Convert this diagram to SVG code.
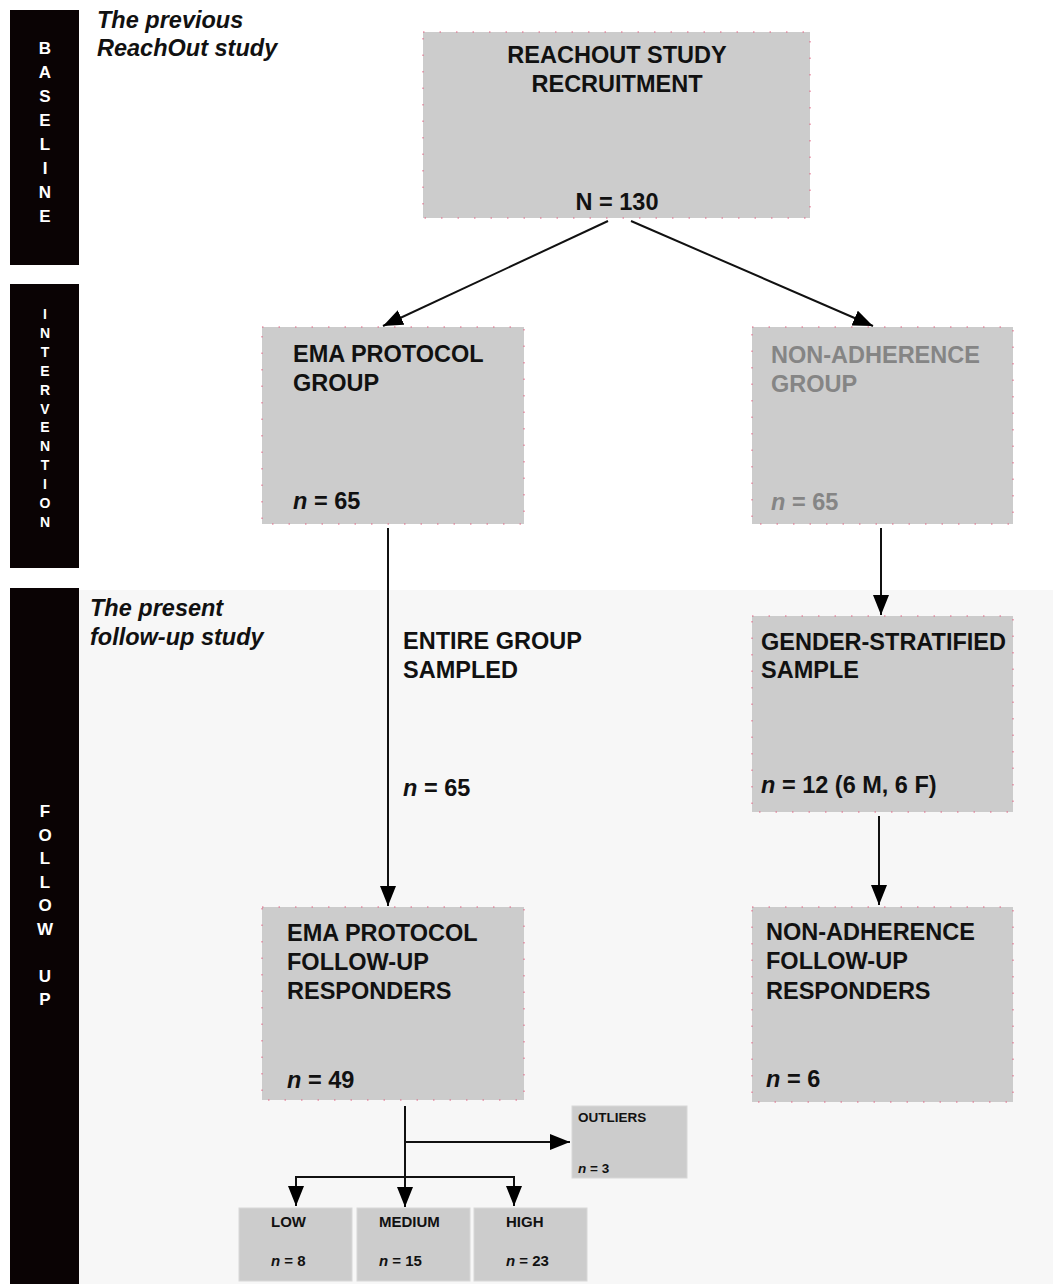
<svg xmlns="http://www.w3.org/2000/svg" width="1053" height="1284" viewBox="0 0 1053 1284">
<defs>
<marker id="ah" viewBox="0 0 20 16" refX="20" refY="8" markerWidth="20" markerHeight="16" markerUnits="userSpaceOnUse" orient="auto">
<path d="M0,0 L20,8 L0,16 z" fill="#000"/>
</marker>
<style>
text{font-family:"Liberation Sans",Arial,sans-serif;font-weight:bold;fill:#111}
.bar{fill:#0a0304}
.side{fill:#fff;text-anchor:middle}
.box{fill:#cccccc;stroke:#e06080;stroke-width:1;stroke-dasharray:1.5 15}
.sbox{fill:#cccccc;stroke:#d8d8d8;stroke-width:1}
.t{font-size:23.5px}
.s{font-size:15px}
.xs{font-size:13.5px}
.it{font-style:italic}
.grey{fill:#858585}
.c{text-anchor:middle}
.con{fill:none;stroke:#111;stroke-width:2}
</style>
</defs>
<rect x="0" y="0" width="1053" height="1284" fill="#fff"/>
<rect x="79" y="590" width="974" height="694" fill="#f7f7f7"/>

<g id="bar-baseline">
<rect class="bar" x="10" y="10" width="69" height="255"/>
<text class="side" style="font-size:17px"><tspan x="45" y="54">B</tspan><tspan x="45" y="78">A</tspan><tspan x="45" y="102">S</tspan><tspan x="45" y="126">E</tspan><tspan x="45" y="150">L</tspan><tspan x="45" y="174">I</tspan><tspan x="45" y="198">N</tspan><tspan x="45" y="222">E</tspan></text>
</g>
<g id="bar-intervention">
<rect class="bar" x="10" y="284" width="69" height="284"/>
<text class="side" style="font-size:14px"><tspan x="45" y="319">I</tspan><tspan x="45" y="338">N</tspan><tspan x="45" y="357">T</tspan><tspan x="45" y="376">E</tspan><tspan x="45" y="395">R</tspan><tspan x="45" y="414">V</tspan><tspan x="45" y="432">E</tspan><tspan x="45" y="451">N</tspan><tspan x="45" y="470">T</tspan><tspan x="45" y="489">I</tspan><tspan x="45" y="508">O</tspan><tspan x="45" y="527">N</tspan></text>
</g>
<g id="bar-followup">
<rect class="bar" x="10" y="588" width="69" height="696"/>
<text class="side" style="font-size:17px"><tspan x="45" y="817">F</tspan><tspan x="45" y="841">O</tspan><tspan x="45" y="864">L</tspan><tspan x="45" y="888">L</tspan><tspan x="45" y="911">O</tspan><tspan x="45" y="935">W</tspan><tspan x="45" y="982">U</tspan><tspan x="45" y="1005">P</tspan></text>
</g>

<g id="label-previous">
<text class="t it" x="97" y="28">The previous</text>
<text class="t it" x="97" y="56">ReachOut study</text>
</g>
<g id="label-present">
<text class="t it" x="90" y="616">The present</text>
<text class="t it" x="90" y="645">follow-up study</text>
</g>

<g id="connectors">
<line class="con" x1="608" y1="221" x2="383" y2="326" marker-end="url(#ah)"/>
<line class="con" x1="631" y1="221" x2="873" y2="326" marker-end="url(#ah)"/>
<line class="con" x1="388" y1="528" x2="388" y2="906" marker-end="url(#ah)"/>
<line class="con" x1="881" y1="528" x2="881" y2="615" marker-end="url(#ah)"/>
<line class="con" x1="879" y1="816" x2="879" y2="905" marker-end="url(#ah)"/>
<line class="con" x1="405" y1="1106" x2="405" y2="1207" marker-end="url(#ah)"/>
<line class="con" x1="405" y1="1142" x2="570" y2="1142" marker-end="url(#ah)"/>
<polyline class="con" points="296,1190 296,1177 514,1177 514,1190"/>
<line class="con" x1="296" y1="1177" x2="296" y2="1206" marker-end="url(#ah)"/>
<line class="con" x1="514" y1="1177" x2="514" y2="1206" marker-end="url(#ah)"/>
</g>

<g id="node-recruitment">
<rect class="box" x="423" y="32" width="387" height="186"/>
<text class="t c" x="617" y="63">REACHOUT STUDY</text>
<text class="t c" x="617" y="92">RECRUITMENT</text>
<text class="t c" x="617" y="210">N = 130</text>
</g>
<g id="node-ema-group">
<rect class="box" x="262" y="327" width="262" height="197"/>
<text class="t" x="293" y="362">EMA PROTOCOL</text>
<text class="t" x="293" y="391">GROUP</text>
<text class="t" x="293" y="509"><tspan class="it">n</tspan> = 65</text>
</g>
<g id="node-nonadherence-group">
<rect class="box" x="752" y="327" width="261" height="197"/>
<text class="t grey" x="771" y="363">NON-ADHERENCE</text>
<text class="t grey" x="771" y="392">GROUP</text>
<text class="t grey" x="771" y="510"><tspan class="it">n</tspan> = 65</text>
</g>
<g id="label-entire-group">
<text class="t" x="403" y="649">ENTIRE GROUP</text>
<text class="t" x="403" y="678">SAMPLED</text>
<text class="t" x="403" y="796"><tspan class="it">n</tspan> = 65</text>
</g>
<g id="node-gender-sample">
<rect class="box" x="752" y="616" width="261" height="196"/>
<text class="t" x="761" y="650">GENDER-STRATIFIED</text>
<text class="t" x="761" y="678">SAMPLE</text>
<text class="t" x="761" y="793"><tspan class="it">n</tspan> = 12 (6 M, 6 F)</text>
</g>
<g id="node-ema-followup">
<rect class="box" x="262" y="907" width="262" height="193"/>
<text class="t" x="287" y="941">EMA PROTOCOL</text>
<text class="t" x="287" y="970">FOLLOW-UP</text>
<text class="t" x="287" y="999">RESPONDERS</text>
<text class="t" x="287" y="1088"><tspan class="it">n</tspan> = 49</text>
</g>
<g id="node-nonadherence-followup">
<rect class="box" x="752" y="907" width="261" height="195"/>
<text class="t" x="766" y="940">NON-ADHERENCE</text>
<text class="t" x="766" y="969">FOLLOW-UP</text>
<text class="t" x="766" y="999">RESPONDERS</text>
<text class="t" x="766" y="1087"><tspan class="it">n</tspan> = 6</text>
</g>
<g id="node-outliers">
<rect class="sbox" x="572" y="1106" width="115" height="72"/>
<text class="xs" x="578" y="1122">OUTLIERS</text>
<text class="xs" x="578" y="1173"><tspan class="it">n</tspan> = 3</text>
</g>
<g id="node-low">
<rect class="sbox" x="239" y="1208" width="113" height="73"/>
<text class="s" x="271" y="1227">LOW</text>
<text class="s" x="271" y="1266"><tspan class="it">n</tspan> = 8</text>
</g>
<g id="node-medium">
<rect class="sbox" x="357" y="1208" width="113" height="73"/>
<text class="s" x="379" y="1227">MEDIUM</text>
<text class="s" x="379" y="1266"><tspan class="it">n</tspan> = 15</text>
</g>
<g id="node-high">
<rect class="sbox" x="474" y="1208" width="113" height="73"/>
<text class="s" x="506" y="1227">HIGH</text>
<text class="s" x="506" y="1266"><tspan class="it">n</tspan> = 23</text>
</g>
</svg>
